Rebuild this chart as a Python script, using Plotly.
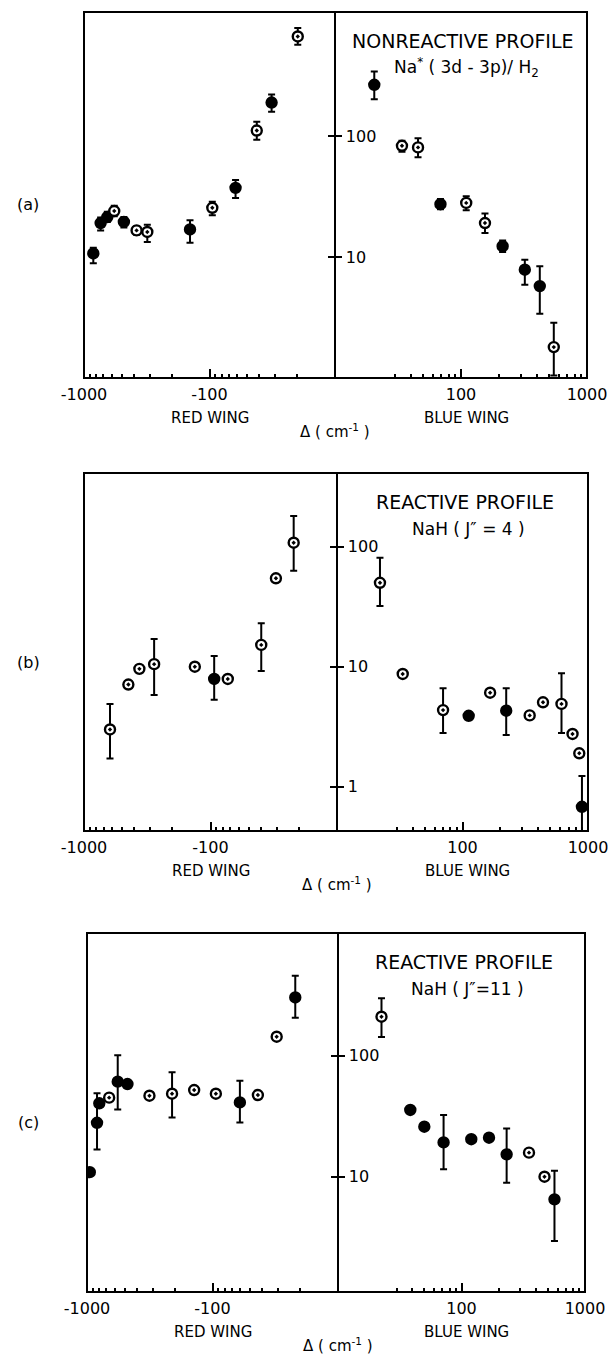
import plotly.graph_objects as go

W, H = 609, 1355

# ---------------- data ----------------
# Panel (a): nonreactive profile Na*(3d-3p)/H2
a_red_delta = [-843, -737, -652, -574, -481, -381, -313, -143, -95, -62, -42, -32, -19.8]
a_red_val = [10.7, 19.1, 21.4, 24.0, 19.5, 16.6, 16.1, 16.9, 25.5, 37.3, 111, 189, 665]
a_red_hi = [11.9, 21.2, 23.7, 26.5, 21.4, 17.9, 18.5, 20.1, 28.6, 43.2, 131, 220, 780]
a_red_lo = [8.9, 16.6, 19.5, 21.7, 17.5, 15.3, 13.3, 13.1, 22.1, 30.8, 93, 159, 568]
a_red_hollow = [0, 0, 0, 1, 0, 1, 1, 0, 1, 0, 1, 0, 1]

a_blue_delta = [20.5, 34, 45.6, 68.7, 110, 155, 214, 321, 422, 545]
a_blue_val = [265, 83, 80.5, 27.3, 28.0, 19.1, 12.3, 7.85, 5.75, 1.80]
a_blue_hi = [341, 91.5, 95.7, 30.1, 31.8, 22.9, 13.7, 9.5, 8.4, 2.86]
a_blue_lo = [201, 74.2, 66.6, 24.8, 24.4, 15.8, 11.0, 5.9, 3.39, 1.05]
a_blue_hollow = [0, 1, 1, 0, 1, 1, 0, 0, 0, 1]

# Panel (b): reactive profile NaH (J''=4)
b_red_delta = [-623, -446, -365, -279, -133, -93.5, -73, -39.7, -30.4, -22]
b_red_val = [3.0, 7.1, 9.6, 10.5, 10.0, 7.9, 7.9, 15.2, 54.5, 108]
b_red_hi = [4.9, None, None, 17.0, None, 12.3, None, 23, None, 180]
b_red_lo = [1.72, None, None, 5.8, None, 5.3, None, 9.2, None, 63]
b_red_hollow = [1, 1, 1, 1, 1, 0, 1, 1, 1, 1]

b_blue_delta = [22, 33.4, 70, 112, 166, 223, 343, 438, 615, 753, 852, 895]
b_blue_val = [50, 8.7, 4.35, 3.9, 6.07, 4.3, 3.93, 5.05, 4.9, 2.75, 1.9, 0.68]
b_blue_hi = [81, None, 6.6, None, None, 6.6, None, None, 8.8, None, None, 1.23]
b_blue_lo = [32, None, 2.8, None, None, 2.7, None, None, 2.8, None, None, 0.35]
b_blue_hollow = [1, 1, 1, 0, 1, 0, 1, 1, 1, 1, 1, 0]

# Panel (c): reactive profile NaH (J''=11)
c_red_delta = [-950, -832, -798, -666, -569, -476, -318, -210, -140, -94, -60.5, -43.5, -30.8, -21.9]
c_red_val = [10.9, 27.9, 40.4, 45, 61, 58.3, 46.7, 48.5, 52, 48.5, 41.1, 47.3, 143.5, 303]
c_red_hi = [None, 48.9, None, None, 101, None, None, 72.8, None, None, 62, None, None, 458]
c_red_lo = [None, 16.8, None, None, 36, None, None, 30.8, None, None, 28, None, None, 206]
c_red_hollow = [0, 0, 0, 1, 0, 0, 1, 1, 1, 1, 0, 1, 1, 0]

c_blue_delta = [22.5, 38.5, 50, 71.6, 120, 167, 232, 352, 470, 566]
c_blue_val = [210, 35.6, 25.9, 19.2, 20.4, 21, 15.3, 15.8, 10, 6.5]
c_blue_hi = [298, None, None, 32.4, None, None, 25, None, None, 11.2]
c_blue_lo = [143, None, None, 11.5, None, None, 8.9, None, None, 2.94]
c_blue_hollow = [1, 0, 0, 0, 0, 0, 0, 1, 1, 0]

panel_letters = ["(a)", "(b)", "(c)"]
titles = ["NONREACTIVE PROFILE", "REACTIVE PROFILE", "REACTIVE PROFILE"]
subtitles = ["Na<sup>*</sup> ( 3d - 3p)/ H<sub>2</sub>", "NaH ( J\u2033 = 4 )", "NaH ( J\u2033=11 )"]

red_tickvals = [1000, 100]
red_ticktext = ["-1000", "-100"]
blue_tickvals = [100, 1000]
blue_ticktext = ["100", "1000"]

panels = [
    (a_red_delta, a_red_val, a_red_hi, a_red_lo, a_red_hollow,
     a_blue_delta, a_blue_val, a_blue_hi, a_blue_lo, a_blue_hollow),
    (b_red_delta, b_red_val, b_red_hi, b_red_lo, b_red_hollow,
     b_blue_delta, b_blue_val, b_blue_hi, b_blue_lo, b_blue_hollow),
    (c_red_delta, c_red_val, c_red_hi, c_red_lo, c_red_hollow,
     c_blue_delta, c_blue_val, c_blue_hi, c_blue_lo, c_blue_hollow),
]

# ---------------- layout geometry (pixels) ----------------
geom = [
    dict(L=84, D=335, R=587, T=12, B=378, yr=[0.0, 3.025], yt=[10, 100]),
    dict(L=84, D=337, R=588, T=473, B=831, yr=[-0.369, 2.614], yt=[1, 10, 100]),
    dict(L=87, D=338, R=585, T=933, B=1292, yr=[0.047, 3.014], yt=[10, 100]),
]

FONT = "DejaVu Sans"
fig = go.Figure()


def px(x):
    return x / W


def py(y):
    return 1 - y / H


def add_points(delta, val, hi, lo, hollow, xa, ya):
    xs = [abs(d) for d in delta]
    idx_err = [i for i in range(len(xs)) if hi[i] is not None]
    idx_no = [i for i in range(len(xs)) if hi[i] is None]
    for idx, with_err in ((idx_err, True), (idx_no, False)):
        if not idx:
            continue
        tr = dict(
            x=[xs[i] for i in idx],
            y=[val[i] for i in idx],
            mode="markers",
            xaxis=xa, yaxis=ya,
            showlegend=False,
            marker=dict(
                size=10,
                symbol=["circle-dot" if hollow[i] else "circle" for i in idx],
                color=["white" if hollow[i] else "black" for i in idx],
                line=dict(color="black", width=2.4),
            ),
        )
        if with_err:
            tr["error_y"] = dict(
                type="data", symmetric=False,
                array=[hi[i] - val[i] for i in idx],
                arrayminus=[val[i] - lo[i] for i in idx],
                color="black", thickness=2, width=3.5,
            )
        fig.add_trace(go.Scatter(**tr))


minor_red = [900, 800, 700, 600, 500, 400, 300, 200, 90, 80, 70, 60, 50, 40, 30, 20]
minor_blue = [20, 30, 40, 50, 60, 70, 80, 90, 200, 300, 400, 500, 600, 700, 800, 900]

shapes = []
annotations = []
for p, (g, data) in enumerate(zip(geom, panels)):
    n_r = 2 * p + 1
    n_b = 2 * p + 2
    xr_name = "xaxis" if n_r == 1 else f"xaxis{n_r}"
    xb_name = f"xaxis{n_b}"
    yr_name = "yaxis" if n_r == 1 else f"yaxis{n_r}"
    yb_name = f"yaxis{n_b}"
    xr_ref = "x" if n_r == 1 else f"x{n_r}"
    yr_ref = "y" if n_r == 1 else f"y{n_r}"
    xb_ref = f"x{n_b}"
    yb_ref = f"y{n_b}"
    ydom = [py(g["B"]), py(g["T"])]

    common_x = dict(type="log", showgrid=False, zeroline=False, showline=False,
                    automargin=False, ticklabelstandoff=5,
                    ticks="inside", ticklen=9, tickwidth=1.5, tickcolor="black",
                    tickfont=dict(family=FONT, size=16, color="black"),
                    minor=dict(ticks="inside", ticklen=4, tickwidth=1.5, tickcolor="black",
                               showgrid=False))
    fig.update_layout(**{
        xr_name: dict(common_x, domain=[px(g["L"]), px(g["D"])], range=[3, 1],
                      anchor=yr_ref, tickmode="array", tickvals=red_tickvals,
                      ticktext=red_ticktext,
                      minor=dict(common_x["minor"], tickmode="array", tickvals=minor_red)),
        xb_name: dict(common_x, domain=[px(g["D"]), px(g["R"])], range=[1, 3],
                      anchor=yb_ref, tickmode="array", tickvals=blue_tickvals,
                      ticktext=blue_ticktext,
                      minor=dict(common_x["minor"], tickmode="array", tickvals=minor_blue)),
        yr_name: dict(type="log", domain=ydom, range=g["yr"], anchor=xr_ref, side="right",
                      showgrid=False, zeroline=False, showline=False, automargin=False,
                      ticks="inside", ticklen=7, tickwidth=1.5, tickcolor="black",
                      tickmode="array", tickvals=g["yt"], showticklabels=False),
        yb_name: dict(type="log", domain=ydom, range=g["yr"], anchor=xb_ref, side="left",
                      showgrid=False, zeroline=False, showline=False, automargin=False,
                      ticks="inside", ticklen=7, tickwidth=1.5, tickcolor="black",
                      tickmode="array", tickvals=g["yt"],
                      ticktext=[str(v) for v in g["yt"]],
                      ticklabelposition="inside", ticklabelstandoff=4,
                      tickfont=dict(family=FONT, size=16, color="black")),
    })

    (rd, rv, rh, rl, rho, bd, bv, bh, bl, bho) = data
    add_points(rd, rv, rh, rl, rho, xr_ref, yr_ref)
    add_points(bd, bv, bh, bl, bho, xb_ref, yb_ref)

    # frame and divider
    shapes.append(dict(type="rect", xref="paper", yref="paper",
                       x0=px(g["L"]), x1=px(g["R"]), y0=py(g["B"]), y1=py(g["T"]),
                       line=dict(color="black", width=2)))
    shapes.append(dict(type="line", xref="paper", yref="paper",
                       x0=px(g["D"]), x1=px(g["D"]), y0=py(g["B"]), y1=py(g["T"]),
                       line=dict(color="black", width=2)))

    cx_title = (g["D"] + g["R"]) / 2 + 2
    annotations += [
        dict(text=titles[p], x=px(cx_title), y=py(g["T"] + 29), xref="paper", yref="paper",
             showarrow=False, font=dict(family=FONT, size=19, color="black"),
             xanchor="center", yanchor="middle"),
        dict(text=subtitles[p], x=px(cx_title + 4), y=py(g["T"] + 56), xref="paper", yref="paper",
             showarrow=False, font=dict(family=FONT, size=17, color="black"),
             xanchor="center", yanchor="middle"),
        dict(text=panel_letters[p], x=px(28), y=py((g["T"] + g["B"]) / 2 + 10), xref="paper",
             yref="paper", showarrow=False, font=dict(family=FONT, size=16, color="black"),
             xanchor="center", yanchor="middle"),
        dict(text="RED WING", x=px((g["L"] + g["D"]) / 2), y=py(g["B"] + 40), xref="paper",
             yref="paper", showarrow=False, font=dict(family=FONT, size=15, color="black"),
             xanchor="center", yanchor="middle"),
        dict(text="BLUE WING", x=px((g["D"] + g["R"]) / 2 + 5), y=py(g["B"] + 40), xref="paper",
             yref="paper", showarrow=False, font=dict(family=FONT, size=15, color="black"),
             xanchor="center", yanchor="middle"),
        dict(text="\u0394 ( cm<sup>-1</sup> )", x=px(g["D"]), y=py(g["B"] + 53), xref="paper",
             yref="paper", showarrow=False, font=dict(family=FONT, size=15, color="black"),
             xanchor="center", yanchor="middle"),
    ]

fig.update_layout(
    template="none",
    width=W, height=H,
    margin=dict(l=0, r=0, t=0, b=0, pad=0),
    paper_bgcolor="white", plot_bgcolor="white",
    shapes=shapes, annotations=annotations,
    showlegend=False,
)

fig.write_html("out.html")
